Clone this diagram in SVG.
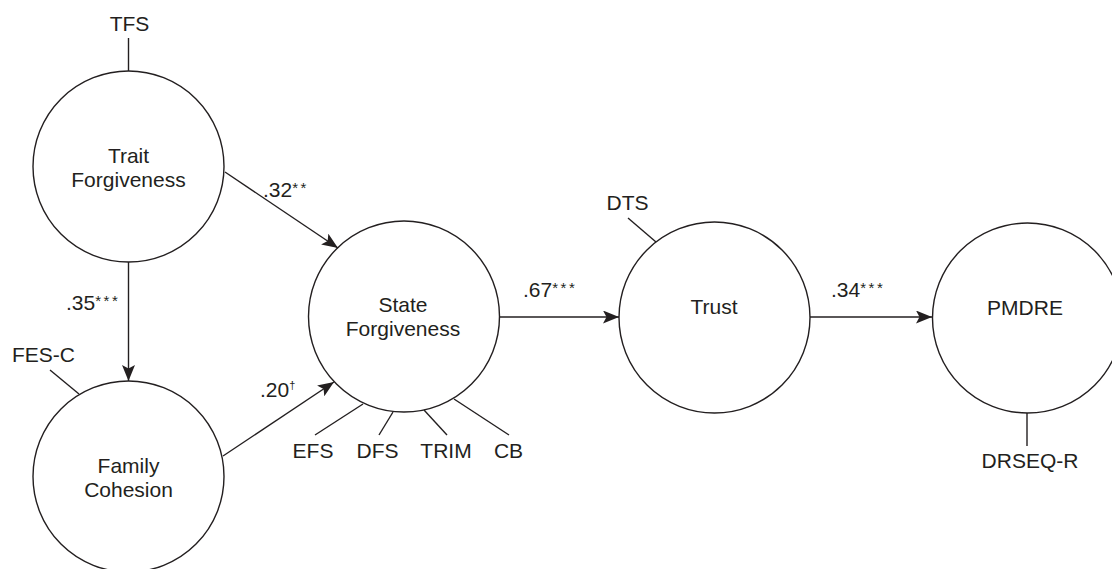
<svg xmlns="http://www.w3.org/2000/svg" width="1112" height="569" viewBox="0 0 1112 569">
<style>
circle{fill:none;stroke:#231f20;stroke-width:1.4}
.ind{stroke:#231f20;stroke-width:1.4;fill:none}
.conn line{stroke:#231f20;stroke-width:1.4;fill:none}
text{font-family:"Liberation Sans",Arial,sans-serif;font-size:21px;fill:#231f20}
.c{text-anchor:middle}
.sup{font-size:15px;letter-spacing:2.5px}
</style>
<defs>
<marker id="arr" markerUnits="userSpaceOnUse" markerWidth="17" markerHeight="13" refX="16" refY="6.5" orient="auto" viewBox="0 0 17 13">
<path d="M0,0 L16,6.5 L0,13 L3.5,6.5 z" fill="#231f20"/>
</marker>
</defs>
<rect width="1112" height="569" fill="#fff"/>
<g id="trait">
<circle cx="128.5" cy="166.5" r="95.5"/>
<text class="c" x="128.5" y="163">Trait</text>
<text class="c" x="128.5" y="187">Forgiveness</text>
<line class="ind" x1="128.5" y1="38" x2="128.5" y2="71"/>
<text class="c" x="129.5" y="31">TFS</text>
</g>
<g id="family">
<circle cx="128.5" cy="476.5" r="95.5"/>
<text class="c" x="128.5" y="473">Family</text>
<text class="c" x="128.5" y="497">Cohesion</text>
<line class="ind" x1="50" y1="370" x2="79" y2="394"/>
<text x="12" y="362">FES-C</text>
</g>
<g id="state">
<circle cx="404" cy="316.5" r="95.5"/>
<text class="c" x="403" y="312">State</text>
<text class="c" x="403" y="336">Forgiveness</text>
<line class="ind" x1="363" y1="404" x2="315" y2="435"/>
<line class="ind" x1="393" y1="412" x2="379" y2="435"/>
<line class="ind" x1="424" y1="410" x2="447" y2="435"/>
<line class="ind" x1="454" y1="399" x2="509" y2="435"/>
<text class="c" x="313" y="458">EFS</text>
<text class="c" x="377.5" y="458">DFS</text>
<text class="c" x="446" y="458">TRIM</text>
<text class="c" x="508.5" y="458">CB</text>
</g>
<g id="trust">
<circle cx="714.5" cy="317.5" r="95.5"/>
<text class="c" x="714" y="314">Trust</text>
<line class="ind" x1="628" y1="218" x2="656" y2="242"/>
<text class="c" x="627.5" y="210">DTS</text>
</g>
<g id="pmdre">
<circle cx="1027.5" cy="318" r="95"/>
<text class="c" x="1025" y="315">PMDRE</text>
<line class="ind" x1="1027" y1="413" x2="1027" y2="446"/>
<text class="c" x="1030" y="468">DRSEQ-R</text>
</g>
<g id="connectors" class="conn">
<line x1="128.5" y1="262" x2="128.5" y2="381" marker-end="url(#arr)"/>
<line x1="225" y1="172" x2="338" y2="248" marker-end="url(#arr)"/>
<line x1="223" y1="456" x2="334" y2="382" marker-end="url(#arr)"/>
<line x1="500" y1="317" x2="619" y2="317" marker-end="url(#arr)"/>
<line x1="810" y1="317" x2="932" y2="317" marker-end="url(#arr)"/>
</g>
<g id="labels">
<text x="263" y="197">.32<tspan class="sup" dy="-4">**</tspan></text>
<text x="66" y="310">.35<tspan class="sup" dy="-4">***</tspan></text>
<text x="260" y="397">.20<tspan font-size="11" dy="-8">†</tspan></text>
<text x="523" y="297">.67<tspan class="sup" dy="-4">***</tspan></text>
<text x="831" y="297">.34<tspan class="sup" dy="-4">***</tspan></text>
</g>
</svg>
